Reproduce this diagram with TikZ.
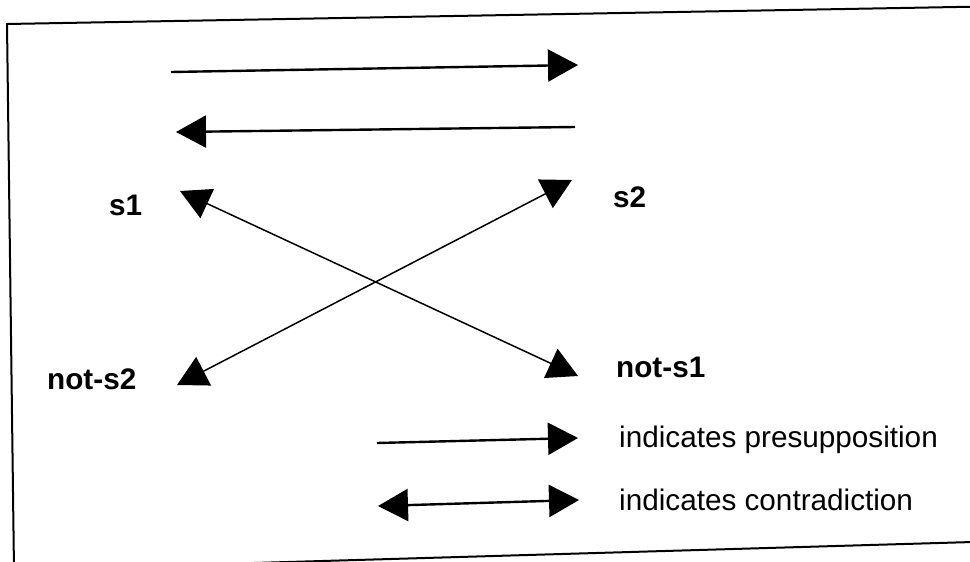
\documentclass[tikz,border=0pt]{standalone}
\usepackage{fontspec}
\setmainfont{Liberation Sans}
\usetikzlibrary{arrows.meta}
\begin{document}
\begin{tikzpicture}[x=1pt,y=-1pt,
  lab/.style={font=\fontsize{29.7}{31}\selectfont\bfseries, anchor=base west, inner sep=0pt},
  leg/.style={font=\fontsize{29.7}{31}\selectfont, anchor=base west, inner sep=0pt},
  >={Triangle[length=30pt,width=32pt]},
  horiz/.style={line width=2.4pt},
  diag/.style={line width=1.5pt},
  frameline/.style={line width=2pt}]
\useasboundingbox (0,0) rectangle (970,562);
\clip (0,0) rectangle (970,562);
% frame (slightly rotated scan)
\draw[frameline] (990,6.4) -- (7,24) -- (14,570) -- (990,541.5);
% labels
\node[lab] (s1) at (109,215) {s1};
\node[lab] (s2) at (613,207) {s2};
\node[lab] (ns2) at (47,389) {not-s2};
\node[lab] (ns1) at (616,377) {not-s1};
\node[leg] (pre) at (619,447) {indicates presupposition};
\node[leg] (con) at (619,510) {indicates contradiction};
% arrow end points
\coordinate (a1) at (171,72);
\coordinate (a2) at (578,65);
\coordinate (b1) at (575,127);
\coordinate (b2) at (176,132);
\coordinate (c1) at (180,191);
\coordinate (c2) at (578,376);
\coordinate (d1) at (177,385);
\coordinate (d2) at (572,180);
\coordinate (e1) at (377,443);
\coordinate (e2) at (578,438);
\coordinate (f1) at (378,506);
\coordinate (f2) at (579,500);
% arrows
\draw[horiz, ->] (a1) -- (a2);
\draw[horiz, ->] (b1) -- (b2);
\draw[diag, <->] (c1) -- (c2);
\draw[diag, <->] (d1) -- (d2);
\draw[horiz, ->] (e1) -- (e2);
\draw[horiz, <->] (f1) -- (f2);
\end{tikzpicture}
\end{document}
